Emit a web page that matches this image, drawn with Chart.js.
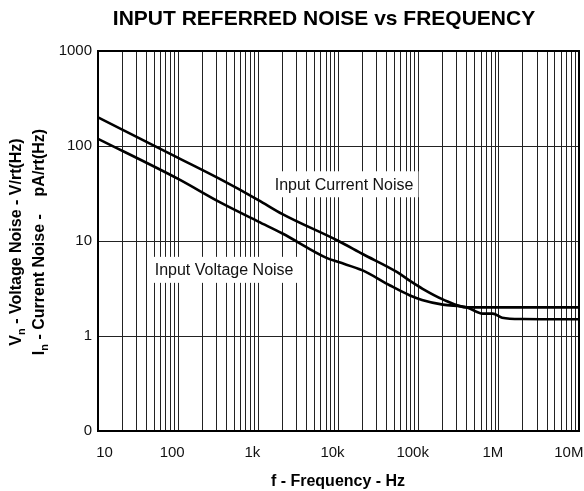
<!DOCTYPE html>
<html>
<head>
<meta charset="utf-8">
<script src="https://cdn.jsdelivr.net/npm/chart.js@4.4.1/dist/chart.umd.min.js"></script>
<style>
  html, body { margin: 0; padding: 0; background: #fff; }
  #wrap { width: 584px; height: 491px; }
</style>
</head>
<body>
<div id="wrap"><canvas id="chart"></canvas></div>
<script>
const chartTitle = 'INPUT REFERRED NOISE vs FREQUENCY';
const xTitle = 'f - Frequency - Hz';
// [main, subscript, rest]
const yTitleLines = [
  ['V', 'n', ' - Voltage Noise - V/rt(Hz)'],
  ['I', 'n', ' - Current Noise -    pA/rt(Hz)']
];

const xDecades = [10, 100, 1e3, 1e4, 1e5, 1e6, 1e7];
const xTickLabels = ['10', '100', '1k', '10k', '100k', '1M', '10M'];
const yDecades = [0.1, 1, 10, 100, 1000];
const yTickLabels = ['0', '1', '10', '100', '1000'];

const currentFreq  = [10, 100, 330, 1000, 2000, 10000, 20000, 54000, 78000, 112000, 200000, 400000, 1e6, 1e7];
const currentNoise = [200, 75, 45, 27, 19.2, 10, 7.3, 4.7, 3.8, 3.14, 2.43, 2.0, 2.0, 2.0];

const voltageFreq  = [10, 100, 330, 1000, 2000, 7200, 10000, 20000, 44000, 78000, 110000, 200000, 400000, 630000, 840000, 1.1e6, 2e6, 1e7];
const voltageNoise = [119, 45, 25.6, 16, 12, 6.6, 6.0, 4.9, 3.4, 2.67, 2.4, 2.14, 2.0, 1.72, 1.72, 1.56, 1.51, 1.5];

const curveLabels = ['Input Current Noise', 'Input Voltage Noise'];
const labelFreq = [1600, 51];
const labelNoise = [38.6, 4.85];

const FONT = '"Liberation Sans", Arial, Helvetica, sans-serif';

function toPoints(xs, ys) {
  return xs.map((x, i) => ({ x: x, y: ys[i] }));
}

// vertical grid: 1..9 within every decade
const xGridValues = [];
xDecades.forEach((d, i) => {
  if (i === xDecades.length - 1) { xGridValues.push(d); return; }
  for (let m = 1; m <= 9; m++) xGridValues.push(d * m);
});

const decorPlugin = {
  id: 'decor',
  beforeDatasetsDraw(chart) {
    const ctx = chart.ctx;
    const xs = chart.scales.x, ys = chart.scales.y;
    ctx.save();
    ctx.font = '16px ' + FONT;
    ctx.textBaseline = 'middle';
    ctx.textAlign = 'left';
    curveLabels.forEach((txt, i) => {
      const px = xs.getPixelForValue(labelFreq[i]);
      const py = ys.getPixelForValue(labelNoise[i]);
      const w = ctx.measureText(txt).width;
      ctx.fillStyle = '#fff';
      ctx.fillRect(px - 5, py - 14, w + 10, 26);
      ctx.fillStyle = '#111';
      ctx.fillText(txt, px, py);
    });
    ctx.restore();
  },
  afterDraw(chart) {
    const ctx = chart.ctx;
    const a = chart.chartArea;
    ctx.save();
    // plot frame
    ctx.strokeStyle = '#000';
    ctx.lineWidth = 2;
    ctx.strokeRect(a.left, a.top, a.right - a.left, a.bottom - a.top);

    // title
    ctx.fillStyle = '#000';
    ctx.font = 'bold 21px ' + FONT;
    ctx.textAlign = 'center';
    ctx.textBaseline = 'middle';
    ctx.fillText(chartTitle, 324, 19);

    // x title
    ctx.font = 'bold 16px ' + FONT;
    ctx.fillText(xTitle, 338, 482);

    // y title (two rotated lines with subscripts)
    const lineX = [17, 40];
    yTitleLines.forEach((parts, i) => {
      ctx.save();
      ctx.translate(lineX[i], 242);
      ctx.rotate(-Math.PI / 2);
      const big = 'bold 16px ' + FONT, small = 'bold 11px ' + FONT;
      ctx.font = big; const w0 = ctx.measureText(parts[0]).width;
      ctx.font = small; const w1 = ctx.measureText(parts[1]).width;
      ctx.font = big; const w2 = ctx.measureText(parts[2]).width;
      let x = -(w0 + w1 + w2) / 2;
      ctx.textAlign = 'left';
      ctx.textBaseline = 'middle';
      ctx.font = big; ctx.fillText(parts[0], x, 0); x += w0;
      ctx.font = small; ctx.fillText(parts[1], x, 5); x += w1;
      ctx.font = big; ctx.fillText(parts[2], x, 0);
      ctx.restore();
    });
    ctx.restore();
  }
};

new Chart(document.getElementById('chart').getContext('2d'), {
  type: 'line',
  data: {
    datasets: [
      {
        label: curveLabels[0],
        data: toPoints(currentFreq, currentNoise),
        borderColor: '#000',
        borderWidth: 2.6,
        pointRadius: 0,
        cubicInterpolationMode: 'monotone',
        fill: false
      },
      {
        label: curveLabels[1],
        data: toPoints(voltageFreq, voltageNoise),
        borderColor: '#000',
        borderWidth: 2.6,
        pointRadius: 0,
        cubicInterpolationMode: 'monotone',
        fill: false
      }
    ]
  },
  options: {
    responsive: true,
    maintainAspectRatio: false,
    animation: false,
    events: [],
    layout: { padding: { top: 51, right: 5, left: 0, bottom: 0 } },
    scales: {
      x: {
        type: 'logarithmic',
        min: 10,
        max: 1e7,
        afterBuildTicks(scale) {
          scale.ticks = xGridValues.map(v => ({ value: v }));
        },
        afterFit(scale) {
          scale.height = 60;
          scale.paddingLeft = 0;
          scale.paddingRight = 0;
        },
        grid: { color: '#222', lineWidth: 1, drawTicks: false },
        border: { display: false },
        ticks: {
          autoSkip: false,
          maxRotation: 0,
          padding: 13,
          labelOffset: -6,
          color: '#111',
          font: { family: FONT, size: 15 },
          callback(value) {
            const i = xDecades.indexOf(value);
            if (i < 0) return '';
            if (i === 0) return '      ' + xTickLabels[i];
            if (i === xDecades.length - 1) return xTickLabels[i] + '  ';
            return xTickLabels[i];
          }
        }
      },
      y: {
        type: 'logarithmic',
        min: 0.1,
        max: 1000,
        afterBuildTicks(scale) {
          scale.ticks = yDecades.map(v => ({ value: v }));
        },
        afterFit(scale) {
          scale.width = 98;
          scale.paddingTop = 0;
          scale.paddingBottom = 0;
        },
        grid: { color: '#222', lineWidth: 1, drawTicks: false },
        border: { display: false },
        ticks: {
          padding: 6,
          color: '#111',
          font: { family: FONT, size: 15 },
          callback(value) {
            const i = yDecades.indexOf(value);
            return i >= 0 ? yTickLabels[i] : '';
          }
        }
      }
    },
    plugins: {
      legend: { display: false },
      title: { display: false },
      tooltip: { enabled: false }
    }
  },
  plugins: [decorPlugin]
});
</script>
</body>
</html>
